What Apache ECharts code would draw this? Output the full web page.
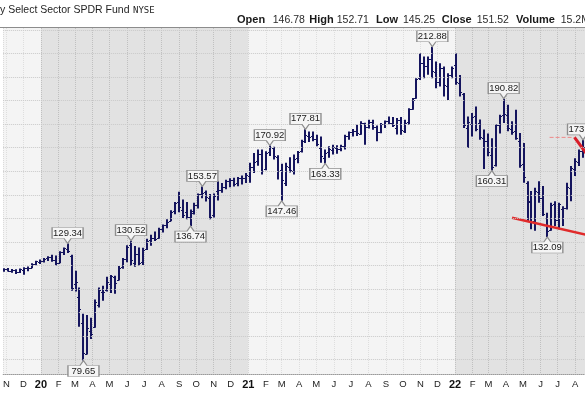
<!DOCTYPE html>
<html><head><meta charset="utf-8">
<script src="https://cdn.jsdelivr.net/npm/echarts@6/dist/echarts.min.js"></script>
<style>html,body{margin:0;padding:0;background:#fff}#c{width:585px;height:396px}</style>
</head><body><div id="c"></div>
<script>
// ---- data ----
const firstWeek = '2019-10-28';
const opens = [117.9,118.3,117.8,118.1,117.2,118.2,118.8,119.1,120.5,121.6,121.8,123.0,123.5,122.5,121.2,125.8,127.2,124.2,112.0,106.5,95.5,82.5,92.0,93.9,103.2,108.8,109.5,112.0,114.9,114.0,119.3,122.8,128.5,121.0,125.0,121.6,127.0,130.8,131.8,131.6,135.7,137.2,138.8,143.2,146.8,143.5,142.8,140.4,143.0,145.8,150.5,151.0,148.8,141.5,151.5,152.0,153.4,156.0,156.4,155.0,157.0,157.3,157.8,162.0,164.3,167.5,161.0,168.0,170.0,166.0,160.5,155.0,162.0,160.2,165.5,168.5,173.0,175.0,175.0,173.5,170.0,165.8,168.0,169.0,170.0,169.6,170.6,175.0,176.5,177.0,176.0,180.4,178.8,181.0,178.8,176.8,180.2,181.2,180.6,178.5,181.8,177.0,180.8,186.5,191.0,199.5,206.0,204.5,207.8,202.0,198.0,204.0,196.0,201.0,205.0,197.5,193.0,178.5,180.0,183.5,180.5,174.0,173.0,167.0,162.5,179.5,184.0,184.0,178.0,177.0,173.0,163.0,155.0,147.0,139.0,151.0,148.5,140.0,135.0,146.0,139.5,144.0,144.5,153.0,161.0,164.0,168.5];
const highs = [118.8,118.9,118.5,118.4,118.7,119.3,119.6,120.9,122.0,122.5,123.2,123.9,124.6,124.2,126.0,127.6,129.34,124.6,117.8,110.6,99.5,99.0,97.8,105.6,110.6,111.4,115.2,116.0,115.6,119.8,123.2,128.6,130.52,128.3,127.6,127.5,131.3,133.0,134.4,136.0,137.4,139.6,143.4,147.0,151.3,148.0,147.0,143.8,146.6,150.6,153.57,151.8,150.4,150.6,155.8,155.0,156.4,157.0,157.2,157.6,158.2,159.3,163.6,167.8,169.2,169.2,168.5,170.92,170.4,166.8,163.2,163.6,166.0,167.1,168.6,173.4,177.81,176.9,176.9,175.5,174.8,169.2,170.6,171.3,171.0,171.3,175.5,176.9,177.9,179.8,181.2,180.6,181.9,181.9,179.4,180.5,181.6,183.3,183.0,182.6,183.0,181.9,186.8,191.1,199.5,210.1,208.7,208.7,212.88,206.6,205.9,204.5,201.6,204.5,210.1,200.9,193.2,183.3,184.7,187.5,182.0,177.7,176.0,174.0,180.0,184.0,190.82,188.2,181.2,186.1,176.3,172.0,155.8,151.6,153.0,155.8,153.7,142.4,146.6,147.3,146.6,145.2,155.1,162.2,165.5,169.2,173.3];
const lows = [117.3,117.4,116.9,116.4,116.8,116.1,117.6,118.8,120.1,120.6,121.3,121.9,121.6,120.0,121.0,124.4,125.3,109.3,109.0,94.0,79.65,82.2,88.8,93.6,102.2,105.0,109.0,108.3,108.0,113.6,118.6,121.4,119.9,119.5,120.0,120.2,126.6,128.4,130.4,131.3,134.0,135.8,138.8,141.8,142.6,140.2,139.6,136.74,141.6,144.2,148.6,147.2,139.6,140.4,147.6,150.9,152.4,153.2,153.5,153.6,154.4,155.0,155.1,159.3,162.3,158.6,160.4,166.5,165.0,156.5,147.46,153.7,159.5,158.6,163.4,168.0,172.0,172.4,172.8,170.6,163.6,163.33,165.7,167.1,167.4,168.5,169.2,173.4,174.8,175.0,175.5,171.3,178.2,177.6,172.7,176.2,178.4,180.0,178.8,175.6,175.5,176.3,179.8,186.1,190.8,198.8,199.5,201.0,199.5,195.3,196.0,191.8,190.3,199.5,196.7,191.8,178.4,169.9,174.8,177.0,173.4,161.0,166.4,160.31,162.0,176.0,180.5,177.0,175.5,173.4,161.5,155.1,138.5,135.4,134.7,146.6,141.0,132.09,134.8,136.8,135.4,136.8,143.8,147.3,158.0,162.2,165.7];
const closes = [118.4,117.8,118.2,117.1,118.4,118.9,119.1,120.5,121.7,121.9,122.9,123.5,122.4,120.9,125.7,127.3,126.2,110.6,112.8,101.5,82.8,93.5,90.8,104.5,109.6,108.7,113.0,115.4,112.6,119.0,122.6,128.0,122.3,124.8,121.0,126.6,130.6,131.6,131.4,135.6,137.0,138.6,142.9,146.6,145.0,141.4,140.6,142.4,145.6,150.2,150.8,149.2,140.6,149.6,151.9,153.2,155.9,156.2,154.6,157.2,157.0,158.6,161.9,164.0,167.5,160.0,167.9,170.2,166.5,160.0,156.3,162.4,160.6,165.3,168.2,172.8,175.4,174.6,173.8,171.5,166.7,167.6,169.3,170.2,169.6,170.8,175.0,176.5,177.2,176.3,180.6,178.6,181.0,179.0,176.6,180.0,181.2,180.6,179.6,181.6,177.6,180.6,186.3,190.3,199.0,206.0,204.5,207.5,202.5,197.8,204.0,196.5,200.8,204.0,198.0,193.5,179.5,181.0,183.0,178.0,174.5,173.0,168.0,162.0,179.5,183.5,184.5,178.5,176.5,174.0,162.5,157.5,147.5,138.5,151.5,148.5,141.8,134.5,145.8,139.5,146.0,144.5,153.5,161.5,164.5,168.5,170.5];
const calloutDates = ['2020-02-17','2020-03-16','2020-06-08','2020-09-21','2020-10-12','2021-02-08','2021-03-01','2021-04-12','2021-05-17','2021-11-22','2022-03-07','2022-03-28','2022-06-13','2022-08-15'];
const calloutValues = [129.34,79.65,130.52,136.74,153.57,170.92,147.46,177.81,163.33,212.88,160.31,190.82,132.09,173.30];
const calloutSides = ['top','bottom','top','bottom','top','top','bottom','top','bottom','top','bottom','top','bottom','top'];
const yearStarts = ['2020-01-01','2021-01-01','2022-01-01'];
const gridPrices = [80,90,100,110,120,130,140,150,160,170,180,190,200,210,220];
const monthLetters = ['J','F','M','A','M','J','J','A','S','O','N','D'];
const titleText = 'y Select Sector SPDR Fund';
const exchangeText = 'NYSE';
const headerLabels = ['Open','High','Low','Close','Volume'];
const headerValues = ['146.78','152.71','145.25','151.52','15.2M'];
const trendDates = ['2022-04-11T18:00:00Z','2022-09-30T00:00:00Z'];
const trendValues = [140.3, 130.8];
const resistDates = ['2022-06-17','2022-07-31'];
const resistValues = [174.4, 174.4];
const arrowDates = ['2022-07-31','2022-09-10'];
const arrowValues = [174.4, 161.0];

// ---- layout ----
const DAY = 86400000;
const t0 = Date.parse(firstWeek + 'T00:00:00Z');
const dates = opens.map((_, i) => t0 + i * 7 * DAY);
const pxPerDay = 208 / 365.25;
const xMin = t0 - (1.0 / pxPerDay) * DAY;
const xMax = xMin + (585 / pxPerDay) * DAY;
const barColor = '#15155e';
const FONT = '"Liberation Sans", Arial, sans-serif';

const chart = echarts.init(document.getElementById('c'));

const pathTop = 'path://M0,0 H31 V11 H19 L15.5,16 L12,11 H0 Z';
const pathBottom = 'path://M0,5 H12 L15.5,0 L19,5 H31 V16 H0 Z';

const bands = [];
bands.push([{xAxis: xMin, itemStyle: {color: 'rgba(255,255,255,0.4)'}}, {xAxis: Date.parse(yearStarts[0])}]);
bands.push([{xAxis: Date.parse(yearStarts[0]), itemStyle: {color: 'rgba(0,0,0,0.045)'}}, {xAxis: Date.parse(yearStarts[1])}]);
bands.push([{xAxis: Date.parse(yearStarts[1]), itemStyle: {color: 'rgba(255,255,255,0.4)'}}, {xAxis: Date.parse(yearStarts[2])}]);
bands.push([{xAxis: Date.parse(yearStarts[2]), itemStyle: {color: 'rgba(0,0,0,0.045)'}}, {xAxis: xMax}]);

const headerX = [237, 309.3, 376, 441.7, 516];
const valueX = [272.7, 336.7, 403, 476.7, 560.7];
const graphics = [
  {type: 'text', x: 0, y: 10.5, style: {text: titleText, font: '10.5px ' + FONT, fill: '#1e1e1e', textVerticalAlign: 'middle'}},
  {type: 'text', x: 133, y: 11, style: {text: exchangeText, font: '9px "DejaVu Sans Mono", monospace', fill: '#1e1e1e', textVerticalAlign: 'middle'}},
  {type: 'line', shape: {x1: 0, y1: 27.5, x2: 585, y2: 27.5}, style: {stroke: '#8c8c8c', lineWidth: 1}}
];
headerLabels.forEach((t, i) => {
  graphics.push({type: 'text', x: headerX[i], y: 20, style: {text: t, font: 'bold 11px ' + FONT, fill: '#1a1a1a', textVerticalAlign: 'middle'}});
  graphics.push({type: 'text', x: valueX[i], y: 20.5, style: {text: headerValues[i], font: '10.5px ' + FONT, fill: '#2a2a2a', textVerticalAlign: 'middle'}});
});

chart.setOption({
  useUTC: true,
  animation: false,
  backgroundColor: '#ffffff',
  grid: {left: 0, right: 0, top: 28, height: 346, show: true, backgroundColor: '#ededed', borderWidth: 0},
  xAxis: {
    type: 'time', min: xMin, max: xMax,
    minInterval: 28 * DAY, maxInterval: 31 * DAY,
    axisLine: {show: true, lineStyle: {color: '#9a9a9a', type: 'dotted'}},
    axisTick: {show: false},
    splitLine: {show: true, lineStyle: {color: '#c9c9c9', type: 'dotted', width: 1}},
    axisLabel: {
      margin: 5, color: '#222', fontSize: 9.5, fontFamily: FONT, hideOverlap: false,
      showMinLabel: false, showMaxLabel: false,
      formatter: function (v) {
        const d = new Date(v);
        const m = d.getUTCMonth();
        if (d.getUTCDate() !== 1) return '';
        if (m === 0) return '{y|' + String(d.getUTCFullYear()).slice(2) + '}';
        return monthLetters[m];
      },
      rich: {y: {fontWeight: 'bold', fontSize: 11, color: '#111', fontFamily: FONT}}
    }
  },
  yAxis: {type: 'value', min: 73.92, max: 220.84, show: false},
  graphic: graphics,
  series: [
    {type: 'line', data: [], z: 1, silent: true, markArea: {silent: true, data: bands}},
    {type: 'line', data: [], z: 2, silent: true,
     markLine: {silent: true, symbol: 'none', label: {show: false},
       lineStyle: {color: '#c9c9c9', type: 'dotted', width: 1},
       data: gridPrices.map(p => ({yAxis: p}))}},
    {
      type: 'custom', z: 3, clip: true,
      encode: {x: 0, y: [1, 2, 3, 4]},
      data: dates.map((d, i) => [d, opens[i], highs[i], lows[i], closes[i]]),
      renderItem: function (params, api) {
        const t = api.value(0);
        const pO = api.coord([t, api.value(1)]);
        const pH = api.coord([t, api.value(2)]);
        const pL = api.coord([t, api.value(3)]);
        const pC = api.coord([t, api.value(4)]);
        const x = Math.round(pH[0]);
        return {type: 'group', children: [
          {type: 'line', shape: {x1: x, y1: pH[1], x2: x, y2: pL[1]}, style: {stroke: barColor, lineWidth: 2}},
          {type: 'line', shape: {x1: x - 2, y1: Math.round(pO[1]) + 0.5, x2: x, y2: Math.round(pO[1]) + 0.5}, style: {stroke: barColor, lineWidth: 1}},
          {type: 'line', shape: {x1: x, y1: Math.round(pC[1]) + 0.5, x2: x + 2, y2: Math.round(pC[1]) + 0.5}, style: {stroke: barColor, lineWidth: 1}}
        ]};
      },
      markPoint: {
        silent: true,
        symbolSize: [31, 16],
        itemStyle: {color: '#f5f5f5', borderColor: '#8e8e8e', borderWidth: 1},
        label: {show: true, color: '#1a1a1a', fontSize: 9.5, fontFamily: FONT,
          formatter: p => p.value},
        data: calloutDates.map((d, i) => ({
          coord: [Date.parse(d), calloutValues[i]],
          value: calloutValues[i].toFixed(2),
          symbol: calloutSides[i] === 'top' ? pathTop : pathBottom,
          symbolOffset: [0, calloutSides[i] === 'top' ? '-50%' : '50%'],
          label: {offset: [0, calloutSides[i] === 'top' ? -2.5 : 2.5]}
        }))
      }
    },
    {type: 'line', z: 4, symbol: 'none', silent: true,
     data: trendDates.map((d, i) => [Date.parse(d), trendValues[i]]),
     lineStyle: {color: '#e02a2a', width: 2.5}},
    {type: 'line', z: 4, symbol: 'none', silent: true,
     data: resistDates.map((d, i) => [Date.parse(d), resistValues[i]]),
     lineStyle: {color: '#ee8888', width: 1, type: 'dashed'}},
    {type: 'line', z: 4, symbol: 'none', silent: true,
     data: arrowDates.map((d, i) => [Date.parse(d), arrowValues[i]]),
     lineStyle: {color: '#d81e2a', width: 3}}
  ]
});
</script></body></html>
